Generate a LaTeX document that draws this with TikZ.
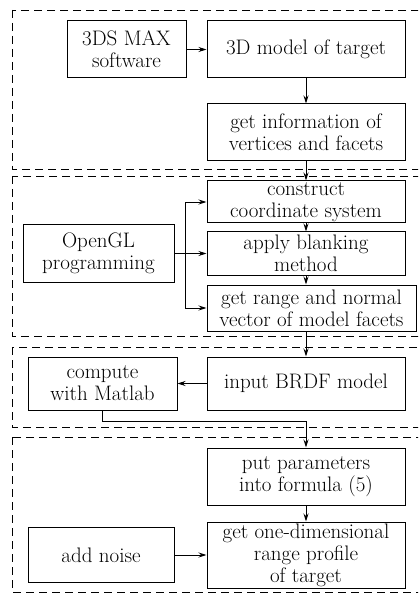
\documentclass[tikz,border=0pt]{standalone}
\usetikzlibrary{arrows.meta}
\tikzset{
  block/.style={
    draw,
    line width = 1pt,
    align = center,
    inner sep = 0pt,
    font = \fontsize{21}{22}\selectfont
  },
  dashframe/.style={
    draw,
    line width = 0.8pt,
    dash pattern = on 8pt off 5pt
  },
  flow/.style={
    line width = 0.9pt,
    -{Stealth[length=8pt,width=5pt]}
  }
}
\begin{document}
\begin{tikzpicture}[x=1pt,y=-1pt]
            \useasboundingbox (0,0) rectangle (418,593);
            \clip (0,0) rectangle (418,593);
            % dashed groups
            \draw[dashframe] (12,10) rectangle (440,169);
            \draw[dashframe] (12,176) rectangle (440,336);
            \draw[dashframe] (12,347) rectangle (440,427);
            \draw[dashframe] (12,437) rectangle (440,592);
            % blocks
            \node[block,minimum width=119,minimum height=57] (max) at (126.5,49.5) {3DS MAX\\software};
            \node[block,minimum width=198,minimum height=57] (model) at (306,49.5) {3D model of target};
            \node[block,minimum width=198,minimum height=57] (info) at (306,132.5) {get information of\\vertices and facets};
            \node[block,minimum width=198,minimum height=42] (coord) at (306,202) {construct\\coordinate system};
            \node[block,minimum width=198,minimum height=43] (blank) at (306,253.5) {apply blanking\\method};
            \node[block,minimum width=209,minimum height=46] (range) at (311.5,308) {get range and normal\\vector of model facets};
            \node[block,minimum width=151,minimum height=57] (opengl) at (98.5,253.5) {OpenGL\\programming};
            \node[block,minimum width=198,minimum height=53] (brdf) at (306,383.5) {input BRDF model};
            \node[block,minimum width=149,minimum height=53] (matlab) at (102.5,383.5) {compute\\with Matlab};
            \node[block,minimum width=198,minimum height=57] (param) at (306,476.5) {put parameters\\into formula (5)};
            \node[block,minimum width=198,minimum height=66] (profile) at (306,555) {get one-dimensional\\range profile\\of target};
            \node[block,minimum width=146,minimum height=55] (noise) at (101,555) {add noise};
            \coordinate (split) at (185,253.5);
            \coordinate (bend) at (306,421);
            % connectors
            \draw[flow] (max) -- (model);
            \draw[flow] (model) -- (info);
            \draw[flow] (info) -- (coord);
            \draw[flow] (coord) -- (blank);
            \draw[flow] (blank.south) -- (blank.south |- range.north);
            \draw[line width=0.9pt] (opengl) -- (split);
            \draw[flow] (split) |- (coord);
            \draw[flow] (split) |- (blank);
            \draw[flow] (split) |- (range);
            \draw[flow] (range.south -| brdf.north) -- (brdf);
            \draw[flow] (brdf) -- (matlab);
            \draw[flow] (matlab) |- (bend) -- (param);
            \draw[flow] (param) -- (profile);
            \draw[flow] (noise) -- (profile);
\end{tikzpicture}
\end{document}
